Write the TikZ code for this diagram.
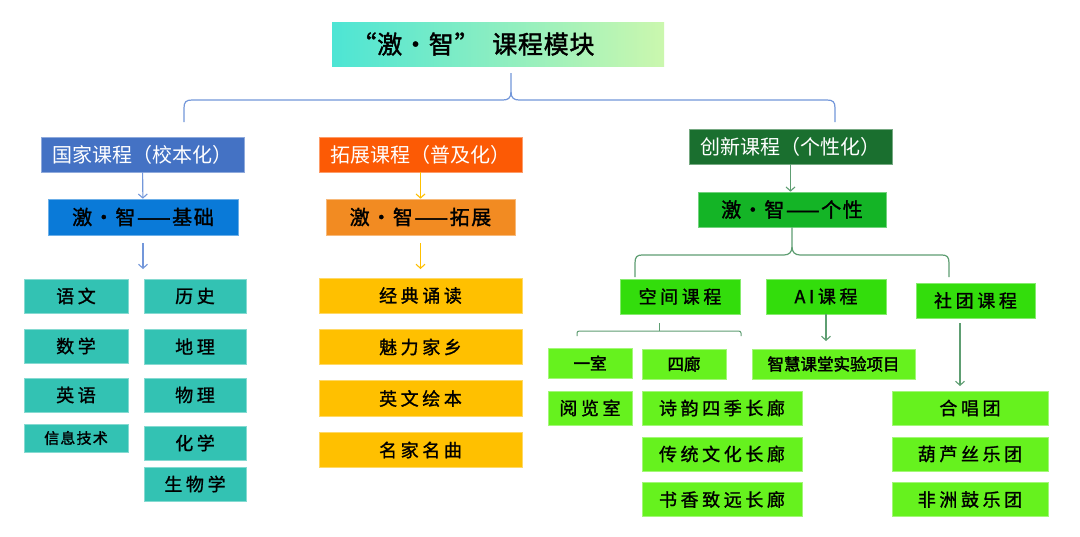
\documentclass[tikz,border=0pt]{standalone}
\usepackage{fontspec}
\setmainfont{Noto Sans CJK SC}
\newfontfamily\kai[LetterSpace=20,FakeBold=1.2]{Noto Sans CJK SC}
\newfontfamily\kaiT[LetterSpace=8,FakeBold=1.5]{Noto Sans CJK SC}
\newfontfamily\kaiTT[LetterSpace=3,FakeBold=1.5]{Noto Sans CJK SC}
\newfontfamily\heiB[FakeBold=2]{Noto Sans CJK SC}
\newfontfamily\heiW{Noto Sans CJK SC}
\usetikzlibrary{arrows.meta}
\definecolor{cTitleL}{HTML}{4DE5D4}
\definecolor{cTitleR}{HTML}{CBF7AE}
\definecolor{cGJ}{HTML}{4472C4}
\definecolor{cJC}{HTML}{0A7AD8}
\definecolor{cTeal}{HTML}{33C2B3}
\definecolor{cTZH}{HTML}{FC5A05}
\definecolor{cTZ}{HTML}{F28B22}
\definecolor{cYel}{HTML}{FFC000}
\definecolor{cCXH}{HTML}{1A6F2F}
\definecolor{cGX}{HTML}{14B426}
\definecolor{cGa}{HTML}{33DD0C}
\definecolor{cGb}{HTML}{66F21E}
\definecolor{lnBlue}{HTML}{7397DA}
\definecolor{lnYel}{HTML}{FFC000}
\definecolor{lnGreen}{HTML}{5E9E72}
\tikzset{
  boxbase/.style={inner sep=0pt, line width=0.6pt, text=black},
  hdr/.style={boxbase, draw=#1!60!white, fill=#1, text=white,
    font=\heiW\fontsize{20pt}{22pt}\selectfont},
  midbox/.style={boxbase, draw=#1!60!white, fill=#1,
    font=\kaiT\fontsize{20pt}{22pt}\selectfont},
  kbox/.style={boxbase, draw=#1!60!white, fill=#1,
    font=\kai\fontsize{18pt}{20pt}\selectfont},
  bbox/.style={boxbase, draw=#1!60!white, fill=#1,
    font=\heiB\fontsize{16.5pt}{18pt}\selectfont},
  arr/.style={draw=#1, line width=1.1pt, -{Straight Barb[length=4pt,width=9pt]}},
  brace/.style={draw=#1, line width=1.2pt, line join=round},
}
\begin{document}
\begin{tikzpicture}[x=1pt,y=-1pt]
\useasboundingbox (0,0) rectangle (1080,536);
\fill[white] (0,0) rectangle (1080,536);

% title
\node[inner sep=0pt, left color=cTitleL, right color=cTitleR, minimum width=332pt, minimum height=44pt,
  font=\kaiTT\fontsize{25pt}{27pt}\selectfont] (title) at (498,44) {“激・智” \ 课程模块\hspace*{50pt}};

% headers
\node[hdr=cGJ, minimum width=203pt, minimum height=35pt] (gj) at (142.5,154.5) {国家课程（校本化）};
\node[hdr=cTZH, minimum width=203pt, minimum height=35pt] (tzh) at (420.5,154.5) {拓展课程（普及化）};
\node[hdr=cCXH, minimum width=203pt, minimum height=35pt] (cxh) at (790.5,146.5) {创新课程（个性化）};

% second level
\node[midbox=cJC, minimum width=190pt, minimum height=36pt] (jc) at (143,217) {激・智——基础};
\node[midbox=cTZ, minimum width=189pt, minimum height=36pt] (tz) at (420.5,217) {激・智——拓展};
\node[midbox=cGX, minimum width=188pt, minimum height=35pt] (gx) at (792,209.5) {激・智——个性};

% national courses
\node[kbox=cTeal, minimum width=104pt, minimum height=34pt] (yw) at (76,296) {语文};
\node[kbox=cTeal, minimum width=104pt, minimum height=34pt] (sx) at (76,346) {数学};
\node[kbox=cTeal, minimum width=104pt, minimum height=34pt] (yy) at (76,395) {英语};
\node[boxbase, draw=cTeal!60!white, fill=cTeal, minimum width=104pt, minimum height=28pt,
  font=\kaiT\fontsize{15pt}{17pt}\selectfont] (xx) at (76,438) {信息技术};
\node[kbox=cTeal, minimum width=102pt, minimum height=34pt] (ls) at (195,296) {历史};
\node[kbox=cTeal, minimum width=102pt, minimum height=35pt] (dl) at (195,346.5) {地理};
\node[kbox=cTeal, minimum width=102pt, minimum height=34pt] (wl) at (195,395) {物理};
\node[kbox=cTeal, minimum width=102pt, minimum height=34pt] (hx) at (195,443) {化学};
\node[kbox=cTeal, minimum width=102pt, minimum height=34pt] (sw) at (195,484) {生物学};

% extension courses
\node[kbox=cYel, minimum width=203pt, minimum height=35pt] (jd) at (420.5,295.5) {经典诵读};
\node[kbox=cYel, minimum width=203pt, minimum height=35pt] (ml) at (420.5,347) {魅力家乡};
\node[kbox=cYel, minimum width=203pt, minimum height=36pt] (yh) at (420.5,398.5) {英文绘本};
\node[kbox=cYel, minimum width=203pt, minimum height=35pt] (mj) at (420.5,450) {名家名曲};

% innovation courses
\node[kbox=cGa, minimum width=120pt, minimum height=35pt] (kj) at (680,296.5) {空间课程};
\node[kbox=cGa, minimum width=120pt, minimum height=35pt] (ai) at (826,296.5) {AI课程};
\node[kbox=cGa, minimum width=119pt, minimum height=35pt] (st) at (975.5,300.5) {社团课程};

\node[bbox=cGb, minimum width=84pt, minimum height=30pt] (ys) at (590,363) {一室};
\node[bbox=cGb, minimum width=84pt, minimum height=30pt] (sl) at (684,364) {四廊};
\node[bbox=cGb, minimum width=163pt, minimum height=30pt] (zh) at (833.5,364) {智慧课堂实验项目};

\node[kbox=cGb, minimum width=84pt, minimum height=34pt] (yl) at (590,408) {阅览室};
\node[kbox=cGb, minimum width=160pt, minimum height=34pt] (sy) at (722,408) {诗韵四季长廊};
\node[kbox=cGb, minimum width=160pt, minimum height=34pt] (ct) at (722,454) {传统文化长廊};
\node[kbox=cGb, minimum width=160pt, minimum height=34pt] (sxc) at (722,499.5) {书香致远长廊};

\node[kbox=cGb, minimum width=156pt, minimum height=34pt] (hc) at (970,408) {合唱团};
\node[kbox=cGb, minimum width=156pt, minimum height=34pt] (hl) at (970,454) {葫芦丝乐团};
\node[kbox=cGb, minimum width=156pt, minimum height=34pt] (fz) at (970,499.5) {非洲鼓乐团};

% top brace
\coordinate (ttip) at (511,73);
\coordinate (tL) at (184,122);
\coordinate (tR) at (835,122);
\draw[brace=lnBlue] (tL) -- (184,108) .. controls (184,102) and (186,100) .. (192,100) -- (503,100)
  .. controls (508,100) and (511,98) .. (511,92) -- (ttip);
\draw[brace=lnBlue] (tR) -- (835,108) .. controls (835,102) and (833,100) .. (827,100) -- (519,100)
  .. controls (514,100) and (511,98) .. (511,92);

% left arrows
\coordinate (a2s) at (143,243);
\coordinate (a2e) at (143,269);
\draw[arr=lnBlue] (gj) -- (jc);
\draw[arr=lnBlue] (a2s) -- (a2e);

% middle arrows
\coordinate (b2s) at (420.5,243);
\coordinate (b2e) at (420.5,269);
\draw[arr=lnYel] (tzh) -- (tz);
\draw[arr=lnYel] (b2s) -- (b2e);

% right
\draw[arr=lnGreen] (cxh.south) -- (cxh.south |- gx.north);
\coordinate (gL) at (635,277);
\coordinate (gR) at (949,277);
\draw[brace=lnGreen] (gx.south) -- (792,247) .. controls (792,252) and (789,255) .. (784,255) -- (642,255)
  .. controls (637,255) and (635,257) .. (635,263) -- (gL);
\draw[brace=lnGreen] (792,247) .. controls (792,252) and (795,255) .. (800,255) -- (942,255)
  .. controls (947,255) and (949,257) .. (949,263) -- (gR);

% small bracket under 空间课程
\coordinate (kt) at (659,323);
\coordinate (kL) at (577,336);
\coordinate (kR) at (741,336);
\draw[brace=lnGreen, line width=1pt] (kt) -- (659,331);
\draw[brace=lnGreen, line width=1pt] (kL) -- (577,333) .. controls (577,331.5) and (578,331) .. (580,331) -- (738,331)
  .. controls (740,331) and (741,331.5) .. (741,333) -- (kR);

% AI arrow
\coordinate (aie) at (826,341);
\draw[arr=lnGreen] (ai) -- (aie);
% club arrow
\coordinate (sts) at (960,323);
\coordinate (ste) at (960,386);
\draw[arr=lnGreen] (sts) -- (ste);
\end{tikzpicture}
\end{document}
